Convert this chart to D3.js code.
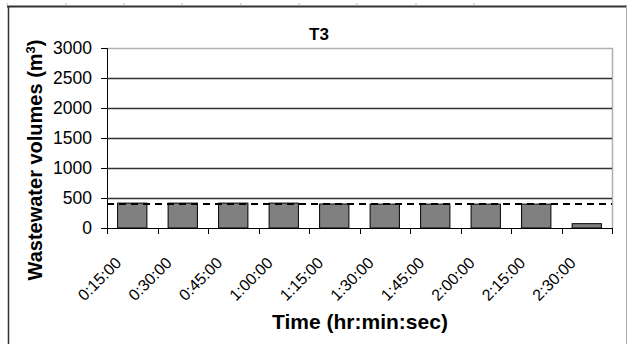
<!DOCTYPE html>
<html>
<head>
<meta charset="utf-8">
<script src="https://cdn.jsdelivr.net/npm/d3@7"></script>
<style>
  body { margin: 0; background: #fff; }
  svg { display: block; font-family: Arial, "Liberation Sans", sans-serif; }
</style>
</head>
<body>
<div id="chart"></div>
<script>
const times = [`0:15:00`, `0:30:00`, `0:45:00`, `1:00:00`, `1:15:00`,
  `1:30:00`, `1:45:00`, `2:00:00`, `2:15:00`, `2:30:00`];
const volumes = [415, 415, 415, 415, 400, 398, 398, 398, 398, 72];
const refLine = 400;
const yTicks = [0, 500, 1000, 1500, 2000, 2500, 3000];
const rulerTicks = [7, 66, 124, 182, 241, 299, 357, 416, 474];

const width = 628;
const height = 344;
const margin = { top: 48, right: 16, bottom: 116, left: 107 };

const svg = d3.select(`#chart`)
  .append(`svg`)
  .attr(`width`, width)
  .attr(`height`, height);

// outer frame (page border) + faint ruler marks
svg.selectAll(`.ruler`)
  .data(rulerTicks)
  .enter()
  .append(`line`)
  .attr(`x1`, (d) => d).attr(`x2`, (d) => d)
  .attr(`y1`, 3).attr(`y2`, 5)
  .attr(`stroke`, `#bbb`);
svg.append(`line`)
  .attr(`x1`, 7).attr(`x2`, 627).attr(`y1`, 6.5).attr(`y2`, 6.5)
  .attr(`stroke`, `#333`).attr(`stroke-width`, 2);
svg.append(`line`)
  .attr(`x1`, 8.5).attr(`x2`, 8.5).attr(`y1`, 6).attr(`y2`, height)
  .attr(`stroke`, `#333`).attr(`stroke-width`, 1.5);
svg.append(`line`)
  .attr(`x1`, 626.5).attr(`x2`, 626.5).attr(`y1`, 6).attr(`y2`, height)
  .attr(`stroke`, `#aaa`);

const xScale = d3.scaleBand()
  .domain(times)
  .range([margin.left, width - margin.right])
  .paddingInner(0.42)
  .paddingOuter(0.21);

const yScale = d3.scaleLinear()
  .domain([0, 3000])
  .range([height - margin.bottom, margin.top]);

const plotW = width - margin.right - margin.left;
const bottomY = height - margin.bottom;

// plot area border (top/right gray)
svg.append(`path`)
  .attr(`d`, `M${margin.left},${margin.top + 0.5}H${width - margin.right + 0.5}V${bottomY}`)
  .attr(`fill`, `none`)
  .attr(`stroke`, `#b0b0b0`)
  .attr(`stroke-width`, 1.5);

// gridlines + y axis
const yAxis = svg.append(`g`)
  .attr(`transform`, `translate(${margin.left},0)`)
  .call(d3.axisLeft(yScale).tickValues(yTicks).tickFormat(d3.format(`d`)).tickSize(6).tickPadding(9));
yAxis.select(`.domain`).attr(`stroke`, `#000`);
yAxis.selectAll(`.tick line`).attr(`stroke`, `#000`);
yAxis.selectAll(`.tick text`)
  .attr(`font-size`, `17.5px`)
  .attr(`fill`, `#000`);

svg.append(`g`)
  .selectAll(`line`)
  .data(yTicks.filter((d) => d > 0 && d < 3000))
  .enter()
  .append(`line`)
  .attr(`x1`, margin.left)
  .attr(`x2`, width - margin.right)
  .attr(`y1`, (d) => Math.round(yScale(d)) + 0.5)
  .attr(`y2`, (d) => Math.round(yScale(d)) + 0.5)
  .attr(`stroke`, `#333`)
  .attr(`stroke-width`, 1.3);

// bars
svg.append(`g`)
  .selectAll(`rect`)
  .data(volumes)
  .enter()
  .append(`rect`)
  .attr(`x`, (d, i) => xScale(times[i]))
  .attr(`y`, (d) => yScale(d))
  .attr(`width`, xScale.bandwidth())
  .attr(`height`, (d) => bottomY - yScale(d))
  .attr(`fill`, `#808080`)
  .attr(`stroke`, `#000`)
  .attr(`stroke-width`, 1);

// dashed reference line
svg.append(`line`)
  .attr(`x1`, margin.left)
  .attr(`x2`, width - margin.right)
  .attr(`y1`, yScale(refLine))
  .attr(`y2`, yScale(refLine))
  .attr(`stroke`, `#000`)
  .attr(`stroke-width`, 2.2)
  .attr(`stroke-dasharray`, `7,5`);

// x axis: ticks at category boundaries
const step = plotW / times.length;
svg.append(`line`)
  .attr(`x1`, margin.left).attr(`x2`, width - margin.right)
  .attr(`y1`, bottomY + 0.5).attr(`y2`, bottomY + 0.5)
  .attr(`stroke`, `#000`);
svg.append(`g`)
  .selectAll(`line`)
  .data(d3.range(times.length + 1))
  .enter()
  .append(`line`)
  .attr(`x1`, (i) => Math.round(margin.left + i * step) + 0.5)
  .attr(`x2`, (i) => Math.round(margin.left + i * step) + 0.5)
  .attr(`y1`, bottomY)
  .attr(`y2`, bottomY + 6)
  .attr(`stroke`, `#000`);

svg.append(`g`)
  .selectAll(`text`)
  .data(times)
  .enter()
  .append(`text`)
  .attr(`transform`, (d) => `translate(${xScale(d) + xScale.bandwidth() / 2 - 10},${bottomY + 36}) rotate(-45)`)
  .attr(`text-anchor`, `end`)
  .attr(`font-size`, `16px`)
  .attr(`fill`, `#000`)
  .text((d) => d);

// titles
svg.append(`text`)
  .attr(`x`, 319)
  .attr(`y`, 40)
  .attr(`text-anchor`, `middle`)
  .attr(`font-size`, `17px`)
  .attr(`font-weight`, `bold`)
  .text(`T3`);

svg.append(`text`)
  .attr(`x`, 360)
  .attr(`y`, 329)
  .attr(`text-anchor`, `middle`)
  .attr(`font-size`, `21px`)
  .attr(`font-weight`, `bold`)
  .text(`Time (hr:min:sec)`);

const yTitle = svg.append(`text`)
  .attr(`transform`, `translate(42,160) rotate(-90)`)
  .attr(`text-anchor`, `middle`)
  .attr(`font-size`, `20px`)
  .attr(`font-weight`, `bold`);
yTitle.append(`tspan`).text(`Wastewater volumes (m`);
yTitle.append(`tspan`).attr(`baseline-shift`, `super`).attr(`font-size`, `13px`).text(`3`);
yTitle.append(`tspan`).text(`)`);
</script>
</body>
</html>
